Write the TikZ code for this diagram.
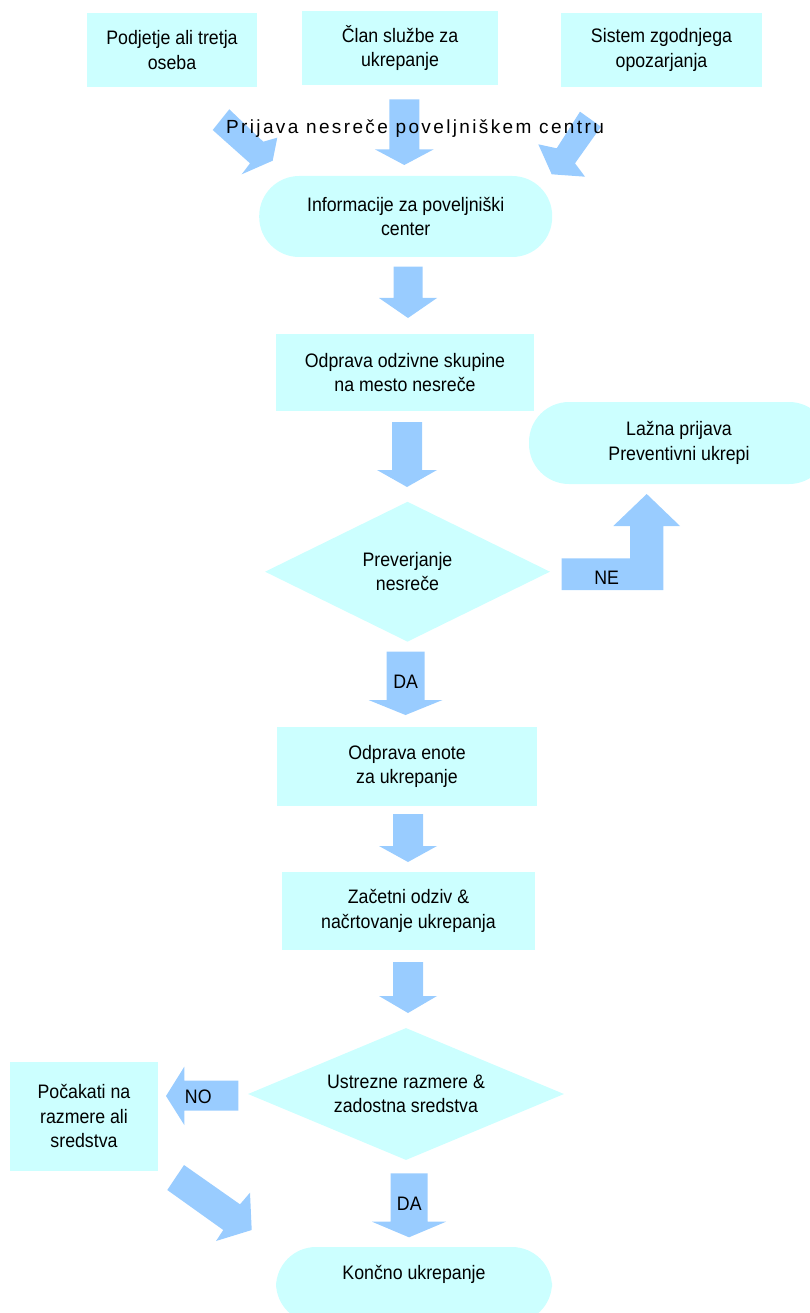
\documentclass[tikz,border=0pt]{standalone}
\usepackage{fontspec}
\setmainfont[FakeStretch=0.91]{Liberation Sans}
\newfontfamily\spacedfont[LetterSpace=12.5]{Liberation Sans}
\usetikzlibrary{shapes.geometric}
\definecolor{boxfill}{HTML}{CCFFFF}
\definecolor{arrfill}{HTML}{99CCFF}
\newcommand\blockdown[6]{% cx, top, headstart, tip, shaft half, head half
  \fill[arrfill] ({#1-#5},#2) -- ({#1+#5},#2) -- ({#1+#5},#3) -- ({#1+#6},#3)
    -- (#1,#4) -- ({#1-#6},#3) -- ({#1-#5},#3) -- cycle;}
\begin{document}
\begin{tikzpicture}[x=1pt,y=-1pt,
  font=\fontsize{19.5}{24.5}\selectfont,
  box/.style={fill=boxfill,draw=none,inner sep=0pt,align=center},
  stad/.style={box,rounded corners=40pt},
  dia/.style={box,diamond,aspect=2.2},
  lbl/.style={inner sep=0pt,align=center}]
\useasboundingbox (0,0) rectangle (810,1313);
% top boxes
\node[box,minimum width=170pt,minimum height=74pt] (b1) at (172,50) {Podjetje ali tretja\\oseba};
\node[box,minimum width=196pt,minimum height=74pt] (b2) at (400,48) {Član službe za\\ukrepanje};
\node[box,minimum width=201pt,minimum height=74pt] (b3) at (661.5,50) {Sistem zgodnjega\\opozarjanja};
% top arrows
\fill[arrfill] (229.3,109.3) -- (212.7,130) -- (250,163.3) -- (241.7,174.3) -- (272.7,160.7) -- (277.3,137.7) -- (263.3,141.7) -- cycle;
\blockdown{404.3}{99.3}{149.3}{165}{15}{29.5}
\fill[arrfill] (580,111.7) -- (601,126.7) -- (575,163.3) -- (585,176.7) -- (551.7,174.3) -- (538.3,144.3) -- (556.7,148.3) -- cycle;
\node[lbl,anchor=base] (prij) at (415,134) {\fontsize{19}{24}\spacedfont Prijava nesreče poveljniškem centru};
% info
\node[stad,minimum width=293pt,minimum height=81pt] (info) at (405.7,216.5) {Informacije za poveljniški\\center};
\blockdown{408}{266.7}{298}{318}{14.5}{29}
\node[box,minimum width=258pt,minimum height=77pt] (odz) at (405,372.5) {Odprava odzivne skupine\\na mesto nesreče};
\blockdown{407}{422}{470}{487}{15}{30}
\node[dia,minimum width=285pt,minimum height=140pt] (prev) at (407.5,571.7) {Preverjanje\\nesreče};
% NE
\fill[arrfill] (561.7,590) -- (561.7,558.3) -- (630,558.3) -- (630,526) -- (613.3,526) -- (646.7,494) -- (680,526) -- (663.3,526) -- (663.3,590) -- cycle;
\node[lbl] (ne) at (606.7,577.3) {NE};
\node[stad,minimum width=300pt,minimum height=82pt] (lazna) at (679,443) {Lažna prijava\\Preventivni ukrepi};
% DA
\blockdown{405.5}{651.7}{700}{715}{19}{37}
\node[lbl] (da1) at (405.7,681.7) {DA};
\node[box,minimum width=260pt,minimum height=79pt] (enote) at (407,766.5) {Odprava enote\\za ukrepanje};
\blockdown{408}{814}{846}{862}{15}{29}
\node[box,minimum width=253pt,minimum height=78pt] (zac) at (408.5,911) {Začetni odziv \&\\načrtovanje ukrepanja};
\blockdown{408}{962}{996}{1013}{15}{29}
\node[dia,minimum width=316pt,minimum height=132pt] (ustr) at (406,1094) {Ustrezne razmere \&\\zadostna sredstva};
% NO
\fill[arrfill] (238.3,1080.7) -- (238.3,1110.7) -- (184.3,1110.7) -- (184.3,1125) -- (166,1096) -- (184.3,1066.7) -- (184.3,1080.7) -- cycle;
\node[lbl] (no) at (198.3,1096.7) {NO};
\node[box,minimum width=148pt,minimum height=109pt] (poc) at (84,1116) {Počakati na\\razmere ali\\sredstva};
\fill[arrfill] (184,1165) -- (167.3,1190) -- (223.3,1230) -- (216,1241) -- (251.7,1230) -- (250,1192.7) -- (240,1204.3) -- cycle;
\blockdown{409}{1173.3}{1221.7}{1237.3}{18.5}{37}
\node[lbl] (da2) at (409.3,1203.3) {DA};
\node[stad,minimum width=276pt,minimum height=76pt] (kon) at (414,1285) {Končno ukrepanje\\\mbox{}};
\end{tikzpicture}
\end{document}
